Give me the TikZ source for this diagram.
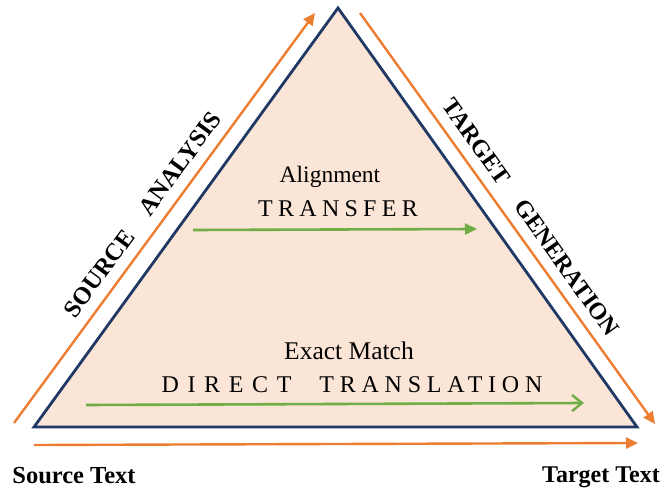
\documentclass[tikz,border=0pt]{standalone}
\usepackage{fontspec}
\setmainfont{Liberation Serif}
\usepackage{tikz}
\usetikzlibrary{arrows.meta, positioning, calc}
\definecolor{flowOrange}{RGB}{237,125,49}
\definecolor{edgeNavy}{RGB}{31,56,100}
\definecolor{fillPeach}{RGB}{251,229,214}
\definecolor{arrowGreen}{RGB}{112,173,71}
\newcommand{\spaced}[2][22]{{\addfontfeature{LetterSpace=#1}#2}}

\begin{document}
\begin{tikzpicture}[
  x=1pt, y=-1pt,
  orangearr/.style={-{Triangle[length=12pt, width=11pt]}, line width=2.4pt, flowOrange},
  greenarr/.style={line width=2.6pt, arrowGreen},
  sidelabel/.style={sloped, above=7pt, font=\fontsize{24.5}{28}\selectfont\bfseries, text=black},
  inner/.style={font=\fontsize{23.5}{27}\selectfont, text=black},
  corner/.style={font=\fontsize{24.5}{28}\selectfont\bfseries, text=black}
]
  \useasboundingbox (0,0) rectangle (662,489);

  % Triangle
  \coordinate (top) at (338,8);
  \coordinate (bl) at (34,427);
  \coordinate (br) at (637,427);
  \draw[edgeNavy, line width=2.8pt, fill=fillPeach, line join=miter] (top) -- (br) -- (bl) -- cycle;

  % Outer flow arrows with side labels
  \coordinate (la) at (14,423);
  \coordinate (lb) at (315,13);
  \draw[orangearr] (la) -- node[sidelabel, pos=0.48] (analysis) {SOURCE\hspace{1em}ANALYSIS} (lb);
  \coordinate (ra) at (360,13);
  \coordinate (rb) at (655,424);
  \draw[orangearr] (ra) -- node[sidelabel, pos=0.525, font=\fontsize{24}{28}\selectfont\bfseries] (generation) {TARGET\hspace{1em}GENERATION} (rb);
  \coordinate (ba) at (34,445);
  \coordinate (bb) at (638,443);
  \draw[orangearr] (ba) -- (bb);

  % Transfer level
  \node[inner] (align) at (330,177) {Alignment};
  \node[inner, font=\fontsize{24}{28}\selectfont] (transfer) at (338,209) {\spaced{TRANSFER}};
  \coordinate (ta) at (193,230);
  \coordinate (tb) at (477,229);
  \draw[greenarr, -{Triangle[length=12pt, width=11pt]}] (ta) -- (tb);

  % Direct level
  \node[inner, font=\fontsize{25.5}{29}\selectfont] (exact) at (349,351) {Exact Match};
  \node[inner, font=\fontsize{24}{28}\selectfont] (direct) at (352,385) {\spaced[36]{DIRECT}\hspace{28pt}\spaced[24]{TRANSLATION}};
  \coordinate (da) at (86,405);
  \coordinate (db) at (584,403);
  \draw[greenarr, -{Straight Barb[length=10pt, width=16pt, line width=2.4pt]}] (da) -- (db);

  % End points
  \node[corner] (src) at (74,476) {Source Text};
  \node[corner, font=\fontsize{24}{28}\selectfont\bfseries] (tgt) at (601,477) {Target Text};
\end{tikzpicture}
\end{document}
